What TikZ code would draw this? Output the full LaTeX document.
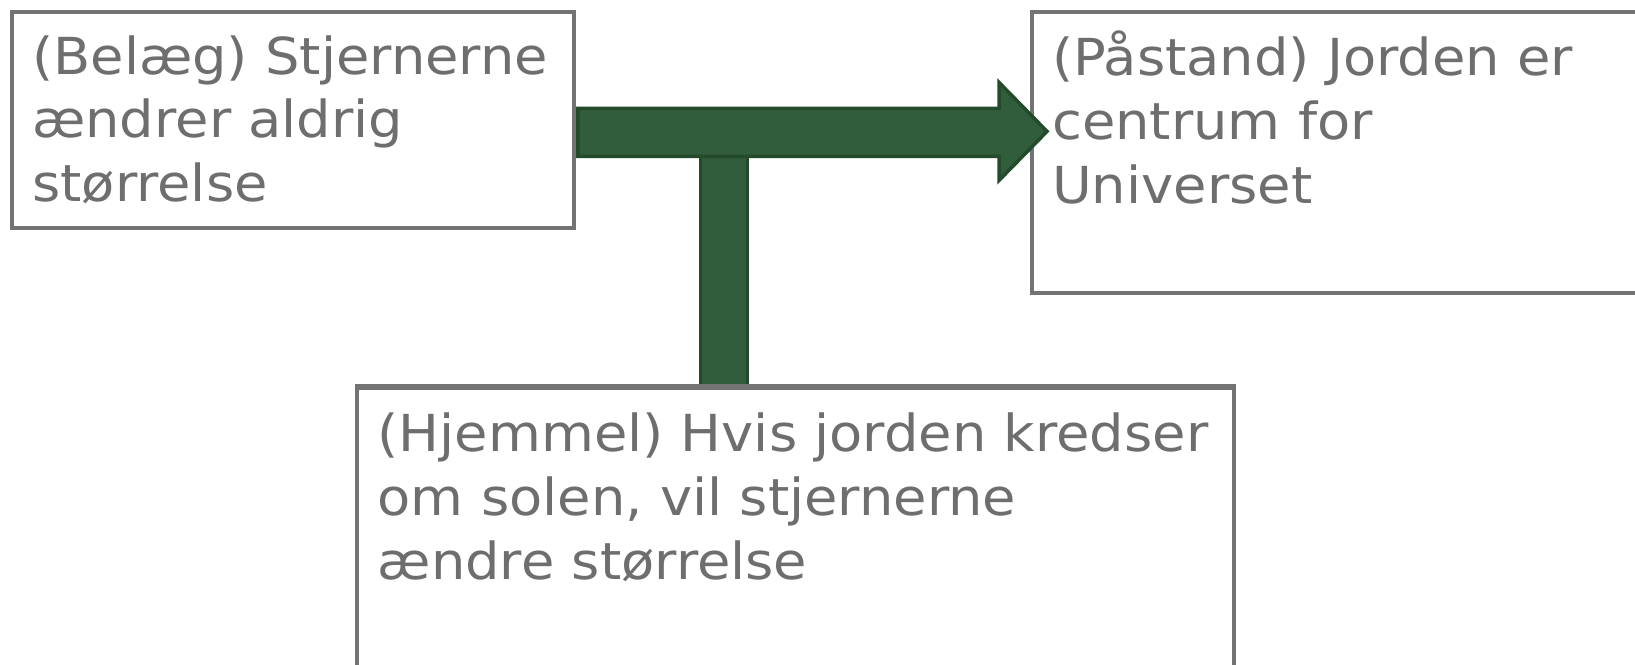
\documentclass[tikz,border=0pt]{standalone}
\usepackage{fontspec}
\setmainfont{DejaVu Sans}[FakeStretch=1.065]
\usetikzlibrary{calc}
\definecolor{bordergray}{HTML}{737373}
\definecolor{textgray}{HTML}{6E6E6E}
\definecolor{argfill}{HTML}{325D3C}
\definecolor{argline}{HTML}{244A2C}
\begin{document}
\begin{tikzpicture}[x=1pt,y=-1pt,
  box/.style={draw=bordergray,line width=4pt,fill=white,rectangle,inner sep=0pt,anchor=north west},
  txt/.style={anchor=base west,align=left,inner sep=0pt,text=textgray,font=\fontsize{51}{63.6}\selectfont},
  bigarrow/.style={fill=argfill,draw=argline,line width=3.5pt,line join=miter}]
\useasboundingbox (0,0) rectangle (1635,664);
\node[box,minimum width=877pt,minimum height=300pt] (hjemmel) at (355,385.5) {};
\node[box,minimum width=562pt,minimum height=216pt] (belaeg) at (9.8,9.8) {};
\node[box,minimum width=640pt,minimum height=281.5pt] (paastand) at (1030,9.8) {};
\draw[bigarrow] (700.7,156.4) rectangle (747.6,385.5);
\draw[bordergray,line width=4pt] (hjemmel.north west) -- (hjemmel.north east);
\draw[bigarrow] ($(belaeg.east |- 0,108.4)+(2,0)$) -- (999,108.4) -- (999,82.4)
  -- ($(paastand.west |- 0,131.4)+(17,0)$) -- (999,180.4) -- (999,156.4)
  -- ($(belaeg.east |- 0,156.4)+(2,0)$) -- cycle;
% base anchor of a multi-line node is the last line: first baseline + 2*63.6
\node[txt] (tb) at (32,201.5) {(Belæg) Stjernerne\\ændrer aldrig\\størrelse};
\node[txt] (tp) at (1052,203) {(Påstand) Jorden er\\centrum for\\Universet};
\node[txt] (th) at (377.5,579) {(Hjemmel) Hvis jorden kredser\\om solen, vil stjernerne\\ændre størrelse};
\end{tikzpicture}
\end{document}
